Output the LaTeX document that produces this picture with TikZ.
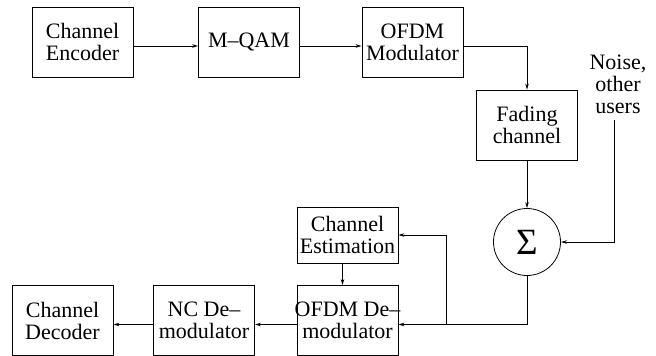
\documentclass[tikz,border=0pt]{standalone}
\usepackage{fontspec}
\setmainfont{Liberation Serif}
\usepackage{tikz}
\usetikzlibrary{arrows.meta}

\begin{document}
\begin{tikzpicture}[x=1pt,y=-1pt,
  blk/.style={draw, line width=0.8pt, minimum width=101pt, minimum height=70pt, inner sep=0pt, align=center, font=\fontsize{22}{22}\selectfont},
  lbl/.style={inner sep=0pt, align=center, font=\fontsize{22}{22}\selectfont},
  conn/.style={line width=0.8pt, -{Stealth[length=6pt,width=3.5pt]}}]
  \useasboundingbox (0,0) rectangle (656,356);
  % transmitter
  \node[blk] (enc) at (82.5,42) {Channel\\Encoder};
  \node[blk] (qam) at (249,42) {M--QAM};
  \node[blk] (mod) at (412.5,42) {OFDM\\Modulator};
  \node[blk] (fad) at (527,125) {Fading\\channel};
  \node[draw, circle, line width=0.8pt, minimum size=67pt, inner sep=0pt, font=\fontsize{37}{37}\selectfont] (sum) at (527,242) {Σ};
  \node[lbl] (noise) at (618,84) {Noise,\\other\\users};
  % receiver
  \node[blk, minimum height=56pt] (cest) at (347.5,235) {Channel\\Estimation};
  \node[blk, inner xsep=-4pt] (odem) at (347.5,320.5) {OFDM De--\\modulator};
  \node[blk] (ncd) at (204,320.5) {NC De--\\modulator};
  \node[blk] (dec) at (62.5,320.5) {Channel\\Decoder};
  \coordinate (tap) at (446,324.5);

  \draw[conn] ([yshift=-4pt]enc.east) -- ([yshift=-4pt]qam.west);
  \draw[conn] ([yshift=-4pt]qam.east) -- ([yshift=-4pt]mod.west);
  \draw[conn] ([yshift=-4pt]mod.east) -| (fad.north);
  \draw[conn] (fad.south) -- (sum.north);
  \draw[conn] ([xshift=-4pt,yshift=-6pt]noise.south) |- (sum.east);
  \draw[conn] (sum.south) |- ([yshift=-4pt]odem.east);
  \draw[conn] (tap) |- (cest.east);
  \draw[conn] ([xshift=-5pt]cest.south) -- ([xshift=-5pt]odem.north);
  \draw[conn] ([yshift=-4pt]odem.west) -- ([yshift=-4pt]ncd.east);
  \draw[conn] ([yshift=-4pt]ncd.west) -- ([yshift=-4pt]dec.east);
\end{tikzpicture}
\end{document}
